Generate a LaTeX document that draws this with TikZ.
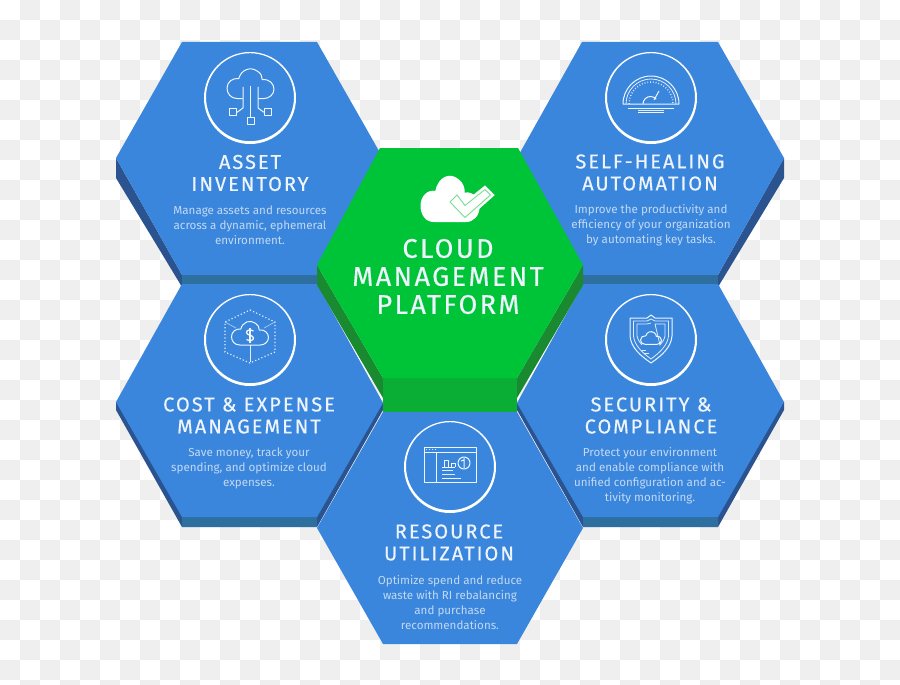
\documentclass[tikz,border=0pt]{standalone}
\usepackage{fontspec}
\setmainfont{Fira Sans}
\newfontfamily\ttlfont[LetterSpace=10,FakeBold=0.5]{Fira Sans}
\newfontfamily\mainfont[LetterSpace=9,FakeBold=0.5]{Fira Sans}
\newfontfamily\descfont{Fira Sans}
\definecolor{chk}{HTML}{EFEFEF}
\definecolor{hexblue}{HTML}{3A86DC}
\definecolor{sideblue}{HTML}{2A5390}
\definecolor{baseblue}{HTML}{2D6F9E}
\definecolor{hexgreen}{HTML}{00C437}
\definecolor{sidegreen}{HTML}{1A8A30}
\definecolor{basegreen}{HTML}{0AAE35}
\definecolor{desccol}{HTML}{C3D9F4}
\definecolor{ttlcol}{HTML}{EEF4FC}
\tikzset{
  ttl/.style={text=ttlcol,font=\ttlfont\fontsize{20}{22}\selectfont,align=center,inner sep=0pt},
  mainttl/.style={text=ttlcol,font=\mainfont\fontsize{27}{28}\selectfont,align=center,inner sep=0pt},
  desc/.style={text=desccol,font=\descfont\fontsize{11.6}{15}\selectfont,align=center,inner sep=0pt},
  icon/.style={draw=white,line width=1pt,line join=round,opacity=0.92},
  thin icon/.style={draw=white,line width=0.8pt,opacity=0.85},
  dots/.style={draw=white,line width=1.2pt,dash pattern=on 1.2pt off 2.2pt,opacity=0.85}
}
\newcommand{\ringat}[1]{%
  \fill[white,even odd rule] (#1) ++(0,0) circle[radius=46] ++(0,-0.8) circle[radius=44];
}
% unit cloud: open at the bottom, x from -1 to 1
\newcommand{\cloudpath}{(-0.55,0.6) .. controls (-0.85,0.6) and (-1,0.35) .. (-1,0.1)
  .. controls (-1,-0.2) and (-0.75,-0.4) .. (-0.5,-0.35)
  .. controls (-0.4,-0.78) and (0,-0.95) .. (0.3,-0.7)
  .. controls (0.45,-0.6) and (0.5,-0.45) .. (0.5,-0.3)
  .. controls (0.8,-0.35) and (1,-0.1) .. (1,0.15)
  .. controls (1,0.4) and (0.8,0.6) .. (0.55,0.6)}
\begin{document}
\begin{tikzpicture}[x=1pt,y=-1pt]
\useasboundingbox (0,0) rectangle (900,685);
\fill[white] (0,0) rectangle (900,685);
\foreach \i in {0,...,44}{\foreach \j in {0,...,34}{%
  \pgfmathtruncatemacro{\od}{mod(\i+\j,2)}%
  \ifnum\od=1 \fill[chk] (20*\i,20*\j) rectangle +(20,20);\fi}}

% top left hexagon
\fill[sideblue] (116,158) -- (116,178) -- (182,287) -- (182,275) -- cycle;
\fill[baseblue] (182,275) -- (317,275) -- (317,287) -- (182,287) -- cycle;
\fill[hexblue] (182,42) -- (317,42) -- (383,158) -- (317,275) -- (182,275) -- (116,158) -- cycle;
% top right hexagon
\fill[sideblue] (784,158) -- (784,178) -- (718,287) -- (718,275) -- cycle;
\fill[baseblue] (583,275) -- (718,275) -- (718,287) -- (583,287) -- cycle;
\fill[hexblue] (582,42) -- (718,42) -- (784,158) -- (718,275) -- (583,275) -- (517,158) -- cycle;
% middle left hexagon
\fill[sideblue] (116,402) -- (116,410) -- (182,527) -- (317,527) -- (383,410) -- (383,403) -- cycle;
\fill[baseblue] (182,517) -- (317,517) -- (317,527) -- (182,527) -- cycle;
\fill[hexblue] (182,284) -- (317,284) -- (383,403) -- (317,517) -- (182,517) -- (116,402) -- cycle;
% middle right hexagon
\fill[sideblue] (784,402) -- (784,410) -- (718,527) -- (583,527) -- (517,410) -- (517,403) -- cycle;
\fill[baseblue] (583,517) -- (718,517) -- (718,527) -- (583,527) -- cycle;
\fill[hexblue] (583,284) -- (718,284) -- (784,402) -- (718,517) -- (583,517) -- (517,403) -- cycle;
% bottom hexagon
\fill[hexblue] (383,412) -- (517,412) -- (583,528) -- (517,644) -- (383,644) -- (317,528) -- cycle;
% centre hexagon
\fill[sidegreen] (317,265) -- (317,285) -- (383,398) -- (383,378) -- cycle;
\fill[sidegreen] (583,265) -- (583,285) -- (517,398) -- (517,378) -- cycle;
\fill[basegreen] (383,378) -- (517,378) -- (517,412) -- (383,412) -- cycle;
\fill[hexgreen] (380,148) -- (518,148) -- (583,265) -- (517,378) -- (383,378) -- (317,265) -- cycle;

% rings
\ringat{250,98}
\ringat{651,98}
\ringat{250,340}
\ringat{651,340}
\ringat{450,467}

% centre icon
\begin{scope}[shift={(450,202.4)},x=29.5pt,y=-32.7pt]
  \fill[white] \cloudpath -- cycle;
\end{scope}
\draw[white,line width=2.4pt,line join=miter,fill=white] (448,202) -- (457,193) -- (465,203) -- (485,187) -- (493,195) -- (465,220) -- cycle;
\draw[hexgreen!55!white,line width=0.9pt,line join=miter] (450,202) -- (457,195) -- (465,205.5) -- (485,189.5) -- (490.5,195) -- (465,217.5) -- cycle;

% asset inventory icon
\begin{scope}[shift={(250.5,86)}]
  \begin{scope}[x=23.5pt,y=-21pt]
    \draw[icon] (-0.33,0.6) -- (-0.55,0.6) .. controls (-0.85,0.6) and (-1,0.35) .. (-1,0.1)
      .. controls (-1,-0.2) and (-0.75,-0.4) .. (-0.5,-0.35)
      .. controls (-0.4,-0.78) and (0,-0.95) .. (0.3,-0.7)
      .. controls (0.45,-0.6) and (0.5,-0.45) .. (0.5,-0.3)
      .. controls (0.8,-0.35) and (1,-0.1) .. (1,0.15)
      .. controls (1,0.4) and (0.8,0.6) .. (0.55,0.6) -- (0.33,0.6);
  \end{scope}
  \draw[icon] (0,0) -- (0,31);
  \draw[icon] (-7.5,1) -- (-7.5,22) -- (-13,26) -- (-14,26);
  \draw[icon] (7.5,1) -- (7.5,22) -- (13,26) -- (14,26);
  \draw[icon] (-21,22.5) rectangle +(7,7);
  \draw[icon] (14,22.5) rectangle +(7,7);
  \draw[icon] (-3.5,31) rectangle +(7,7);
\end{scope}

% self-healing icon
\begin{scope}[shift={(651,104)}]
  \draw[icon] (-28,0) arc[start angle=180,end angle=360,radius=28] -- cycle;
  \draw[thin icon] (-25,0) arc[start angle=180,end angle=360,radius=25];
  \draw[dots,line width=1.5pt,dash pattern=on 0.8pt off 2pt] (-22,0) arc[start angle=180,end angle=360,radius=22];
  \draw[icon] (-8,0) arc[start angle=180,end angle=320,radius=7.5];
  \draw[icon] (3,-4) -- (8,-13);
  \draw[icon] (-23,4) -- (23,4);
  \draw[icon] (-13,8) -- (13,8);
  \draw[thin icon] (-13,6) -- (13,6);
\end{scope}

% cost and expense icon
\begin{scope}[shift={(250,340)}]
  \draw[dots] (0,-30) -- (25,-18) -- (25,12) -- (0,23) -- (-25,12) -- (-25,-18) -- cycle;
  \draw[thin icon,opacity=0.5] (-14,-12) -- (-25,-18) (14,-12) -- (25,-18);
  \draw[thin icon] (0,5) -- (0,22);
  \begin{scope}[shift={(0,-5)},x=18.5pt,y=-16.7pt]
    \draw[icon] \cloudpath -- cycle;
  \end{scope}
  \draw[icon,line width=1.3pt] (3.5,-9) .. controls (1,-10.5) and (-3.5,-10.5) .. (-3.5,-7.5) .. controls (-3.5,-4.5) and (3.5,-5) .. (3.5,-2) .. controls (3.5,1) and (-1,1) .. (-3.5,-0.5);
  \draw[icon,line width=1.3pt] (0,-12) -- (0,2.5);
\end{scope}

% security icon
\begin{scope}[shift={(651,340)}]
  \draw[icon] (0,-25) -- (-4,-22) -- (-21,-22) -- (-21,-4) .. controls (-20,8) and (-10,16) .. (0,23) .. controls (10,16) and (20,8) .. (21,-4) -- (21,-22) -- (4,-22) -- cycle;
  \draw[thin icon] (0,-21) -- (-4,-19) -- (-17.5,-19) -- (-17.5,-4) .. controls (-16.5,6) and (-8,13) .. (0,19) .. controls (8,13) and (16.5,6) .. (17.5,-4) -- (17.5,-19) -- (4,-19) -- cycle;
  \draw[thin icon] (0,-17) -- (-4,-16) -- (-14,-16) -- (-14,-4) .. controls (-13,0) and (-11,3) .. (-9,5) (9,5) .. controls (11,3) and (13,0) .. (14,-4) -- (14,-16) -- (4,-16) -- cycle;
  \draw[thin icon] (-9,10) -- (-5,10) (-7,13) -- (-2,13);
  \begin{scope}[shift={(0,-1)},x=10.5pt,y=-9pt]
    \draw[icon] \cloudpath -- cycle;
  \end{scope}
\end{scope}

% resource utilization icon
\begin{scope}[shift={(450,467)}]
  \draw[icon] (-26,-20) rectangle (26,15);
  \draw[icon] (-26,-15) -- (26,-15);
  \draw[icon] (-14,-15) -- (-14,15);
  \draw[dots,dash pattern=on 1pt off 2pt] (-24,-17.5) -- (-14,-17.5);
  \draw[icon] (-8,0) -- (5,0);
  \draw[icon] (-6,0) -- (-6,-7) -- (-2,-7) -- (-2,0);
  \draw[icon] (1,0) -- (1,-4) -- (5,-4) -- (5,0);
  \draw[icon] (14,-4) circle[radius=6];
  \draw[icon] (14,-9) -- (14,1) (11,-6) -- (14,-7);
  \draw[thin icon] (-8,3) -- (3,3);
  \draw[thin icon] (-8,7) -- (5,7);
  \draw[icon] (-8,11) -- (11,11);
\end{scope}

% texts
\node[mainttl] (maintext) at (448,276.5) {CLOUD\\MANAGEMENT\\PLATFORM};
\node[ttl] (t1) at (250,173) {ASSET\\INVENTORY};
\node[desc] (d1) at (250,225) {Manage assets and resources\\across a dynamic, ephemeral\\environment.};
\node[ttl] (t2) at (650,172.5) {SELF-HEALING\\AUTOMATION};
\node[desc] (d2) at (651,225) {Improve the productivity and\\efficiency of your organization\\by automating key tasks.};
\node[ttl] (t3) at (249,415.5) {COST \& EXPENSE\\MANAGEMENT};
\node[desc] (d3) at (249,468) {Save money, track your\\spending, and optimize cloud\\expenses.};
\node[ttl] (t4) at (651,415.5) {SECURITY \&\\COMPLIANCE};
\node[desc] (d4) at (650,475.5) {Protect your environment\\and enable compliance with\\unified configuration and ac-\\tivity monitoring.};
\node[ttl] (t5) at (449,542.5) {RESOURCE\\UTILIZATION};
\node[desc] (d5) at (450,602.5) {Optimize spend and reduce\\waste with RI rebalancing\\and purchase\\recommendations.};
\end{tikzpicture}
\end{document}
